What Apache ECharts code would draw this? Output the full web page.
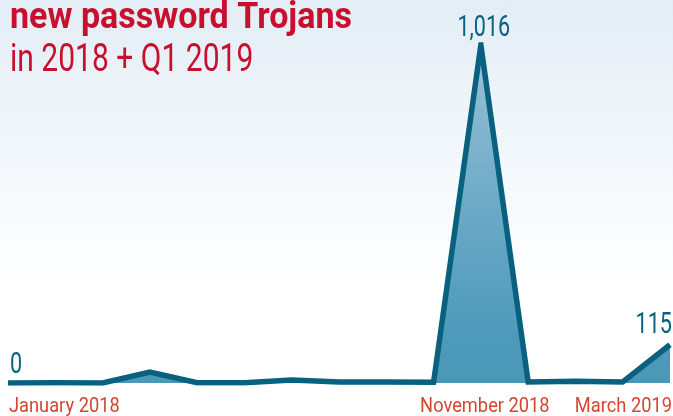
<!DOCTYPE html>
<html>
<head>
<meta charset="utf-8">
<script src="https://cdn.jsdelivr.net/npm/echarts@6/dist/echarts.min.js"></script>
<style>
  html, body { margin: 0; padding: 0; }
  #chart {
    width: 673px; height: 416px;
    background: linear-gradient(to bottom, #e3edf5 0px, #f2f7fb 150px, #ffffff 290px, #ffffff 416px);
  }
</style>
</head>
<body>
<div id="chart"></div>
<script>
// Monthly counts of new password Trojans, January 2018 – March 2019
const months = [
  'January 2018', 'February 2018', 'March 2018', 'April 2018', 'May 2018',
  'June 2018', 'July 2018', 'August 2018', 'September 2018', 'October 2018',
  'November 2018', 'December 2018', 'January 2019', 'February 2019', 'March 2019'
];
const newTrojans = [0, 1, 0, 33, 1, 1, 9, 3, 3, 2, 1016, 3, 5, 3, 115];

// Month names written under the baseline
const shownTicks = ['January 2018', 'November 2018', 'March 2019'];
// Months whose value is written above the line
const labelledMonths = ['January 2018', 'November 2018', 'March 2019'];

const FONT = "Roboto, 'Liberation Sans', sans-serif";
const LINE = '#07617f';
const RED = '#c8102e';
const AXIS_RED = '#d6452f';

const fmt = v => v.toLocaleString('en-US');

const chart = echarts.init(document.getElementById('chart'), null, { renderer: 'canvas' });
chart.setOption({
  backgroundColor: 'transparent',
  animation: false,
  grid: { left: 8, right: 3, top: 45, bottom: 33 },
  xAxis: {
    type: 'category',
    data: months,
    boundaryGap: false,
    axisLine: { show: false },
    axisTick: { show: false },
    splitLine: { show: false },
    axisLabel: { show: false }
  },
  yAxis: {
    type: 'value', min: 0, max: 1016, show: false,
    splitLine: { show: false }
  },
  series: [{
    type: 'line',
    data: newTrojans,
    showSymbol: false,
    lineStyle: { color: LINE, width: 5.5, join: 'miter' },
    areaStyle: {
      opacity: 1,
      color: new echarts.graphic.LinearGradient(0, 0, 0, 1, [
        { offset: 0, color: '#a4cadd' },
        { offset: 0.16, color: '#8bb9d0' },
        { offset: 0.5, color: '#6aa9c6' },
        { offset: 0.85, color: '#4e9abb' },
        { offset: 1, color: '#4a97b8' }
      ])
    },
    z: 3
  }]
});

// Condensed text: drawn as graphic text squeezed horizontally
function condensedText(text, x, y, opts) {
  return {
    type: 'text',
    x: x, y: y,
    scaleX: opts.scaleX,
    z: 10,
    style: {
      text: text,
      x: 0, y: 0,
      fill: opts.color,
      fontFamily: FONT,
      fontSize: opts.size,
      fontWeight: opts.weight || 'normal',
      align: opts.align || 'left',
      textAlign: opts.align || 'left',
      verticalAlign: 'bottom',
      textVerticalAlign: 'bottom'
    }
  };
}

const px = (i, v) => chart.convertToPixel({ xAxisIndex: 0, yAxisIndex: 0 }, [i, v]);
const graphics = [];

// Heading
graphics.push(condensedText('new password Trojans', 10, 37, { size: 37, weight: 'bold', color: RED, scaleX: 0.92 }));
graphics.push(condensedText('in 2018 + Q1 2019', 10, 81, { size: 39, color: RED, scaleX: 0.77 }));

// Value labels above the line
const valueAlign = {
  'January 2018': { align: 'left', dx: 2, dy: -3 },
  'November 2018': { align: 'center', dx: 3, dy: -2 },
  'March 2019': { align: 'right', dx: 2, dy: -4 }
};
labelledMonths.forEach(m => {
  const i = months.indexOf(m);
  const p = px(i, newTrojans[i]);
  const a = valueAlign[m];
  graphics.push(condensedText(fmt(newTrojans[i]), p[0] + a.dx, p[1] + a.dy,
    { size: 30, color: LINE, scaleX: 0.72, align: a.align }));
});

// Month names under the baseline
const tickAlign = {
  'January 2018': { align: 'left', dx: 1 },
  'November 2018': { align: 'center', dx: 4 },
  'March 2019': { align: 'right', dx: 2 }
};
shownTicks.forEach(m => {
  const i = months.indexOf(m);
  const p = px(i, 0);
  const a = tickAlign[m];
  graphics.push(condensedText(m, p[0] + a.dx, 417,
    { size: 21, color: AXIS_RED, scaleX: 0.87, align: a.align }));
});

chart.setOption({ graphic: graphics });
</script>
</body>
</html>
